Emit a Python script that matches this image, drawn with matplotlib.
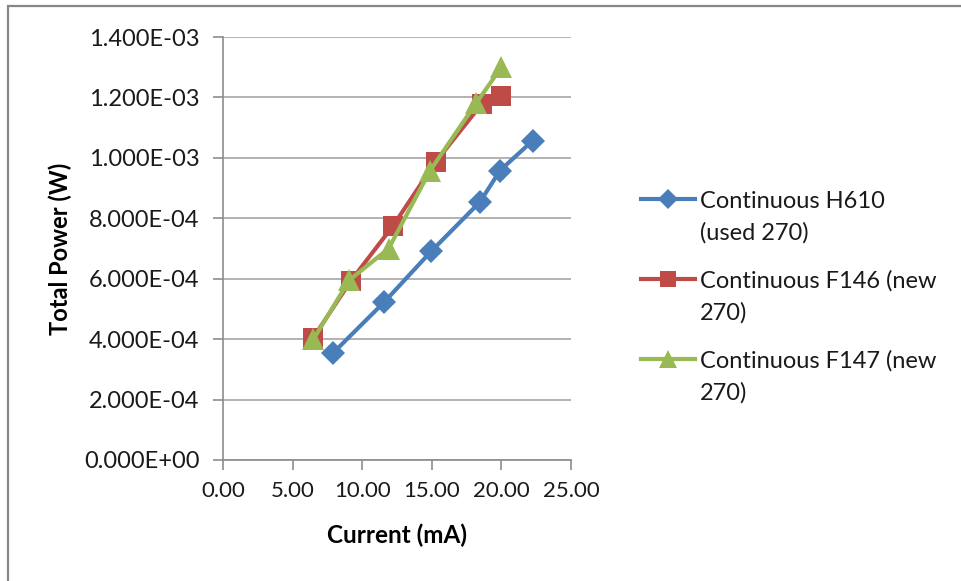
import matplotlib
matplotlib.use("Agg")
import matplotlib.pyplot as plt
from matplotlib.lines import Line2D
from matplotlib.patches import Rectangle
from matplotlib.ticker import FuncFormatter, MultipleLocator

plt.rcParams['font.family'] = ['Lato', 'DejaVu Sans']

# Measured total power vs. drive current
current_h610 = [7.88, 11.59, 14.96, 18.46, 19.90, 22.25]
power_h610 = [3.53e-4, 5.23e-4, 6.91e-4, 8.54e-4, 9.58e-4, 1.057e-3]

current_f146 = [6.49, 9.17, 12.23, 15.28, 18.58, 19.97]
power_f146 = [4.05e-4, 5.92e-4, 7.76e-4, 9.87e-4, 1.178e-3, 1.205e-3]

current_f147 = [6.49, 9.07, 11.90, 14.88, 18.20, 20.00]
power_f147 = [3.99e-4, 5.95e-4, 7.00e-4, 9.58e-4, 1.182e-3, 1.300e-3]

labels = ["Continuous H610\n(used 270)",
          "Continuous F146 (new\n270)",
          "Continuous F147 (new\n270)"]
colors = ["#4A7EBB", "#BE4B48", "#98B954"]
markers = ["D", "s", "^"]
msizes = [12.5, 14.5, 16]

W, H = 961, 581
fig = plt.figure(figsize=(W / 100, H / 100), dpi=100)

# chart frame
fig.add_artist(Rectangle((8 / W, -0.05), 1.1, (H - 6) / H + 0.05,
                         transform=fig.transFigure, fill=False,
                         edgecolor="#878787", linewidth=1.6))

ax = fig.add_axes([223 / W, 1 - 460 / H, (571 - 223) / W, (460 - 37) / H])

series = [(current_h610, power_h610), (current_f146, power_f146),
          (current_f147, power_f147)]
for (x, y), c, m, ms, lab in zip(series, colors, markers, msizes, labels):
    ax.plot(x, y, color=c, marker=m, markersize=ms, linewidth=3.0,
            markeredgewidth=0, label=lab, zorder=3)

ax.set_xlim(0, 25)
ax.set_ylim(0, 1.4e-3)
ax.xaxis.set_major_locator(MultipleLocator(5))
ax.yaxis.set_major_locator(MultipleLocator(2e-4))
ax.xaxis.set_major_formatter(FuncFormatter(lambda v, p: f"{v:.2f}"))
ax.yaxis.set_major_formatter(FuncFormatter(lambda v, p: f"{v:.3E}"))

grid_c = "#A6A6A6"
ax.grid(axis="y", color=grid_c, linewidth=1.2)
ax.set_axisbelow(True)
for s in ["top", "right"]:
    ax.spines[s].set_visible(False)
for s in ["left", "bottom"]:
    ax.spines[s].set_color("#8C8C8C")
    ax.spines[s].set_linewidth(1.2)
ax.tick_params(axis="both", direction="out", length=7, width=1.2,
               color="#8C8C8C", labelsize=17, labelcolor="#1a1a1a")
ax.tick_params(axis="y", pad=10)
ax.tick_params(axis="x", pad=8, labelsize=16)

ax.set_xlabel("Current (mA)", fontsize=17.5, fontweight="bold", va="center")
ax.set_ylabel("Total Power (W)", fontsize=17, fontweight="bold", va="center")
ax.xaxis.set_label_coords((397 - 223) / 348, (460 - 535) / 423)
ax.yaxis.set_label_coords((60 - 223) / 348, 0.5)

# legend drawn entry by entry so the key sits beside the first text line
for i, line in enumerate(ax.get_lines()):
    ymid = 199 + 80 * i
    yf = 1 - ymid / H
    fig.add_artist(Line2D([641 / W, 695 / W], [yf, yf], transform=fig.transFigure,
                          color=line.get_color(), linewidth=3.0))
    fig.add_artist(Line2D([668 / W], [yf], transform=fig.transFigure,
                          color=line.get_color(), marker=line.get_marker(),
                          markersize=line.get_markersize() * 0.8,
                          markeredgewidth=0))
    for j, part in enumerate(line.get_label().split("\n")):
        fig.text(700 / W, 1 - (ymid + 8.5 + 32 * j) / H, part, fontsize=17,
                 va="baseline", ha="left", color="#1a1a1a")

fig.savefig("out.png", dpi=100)
